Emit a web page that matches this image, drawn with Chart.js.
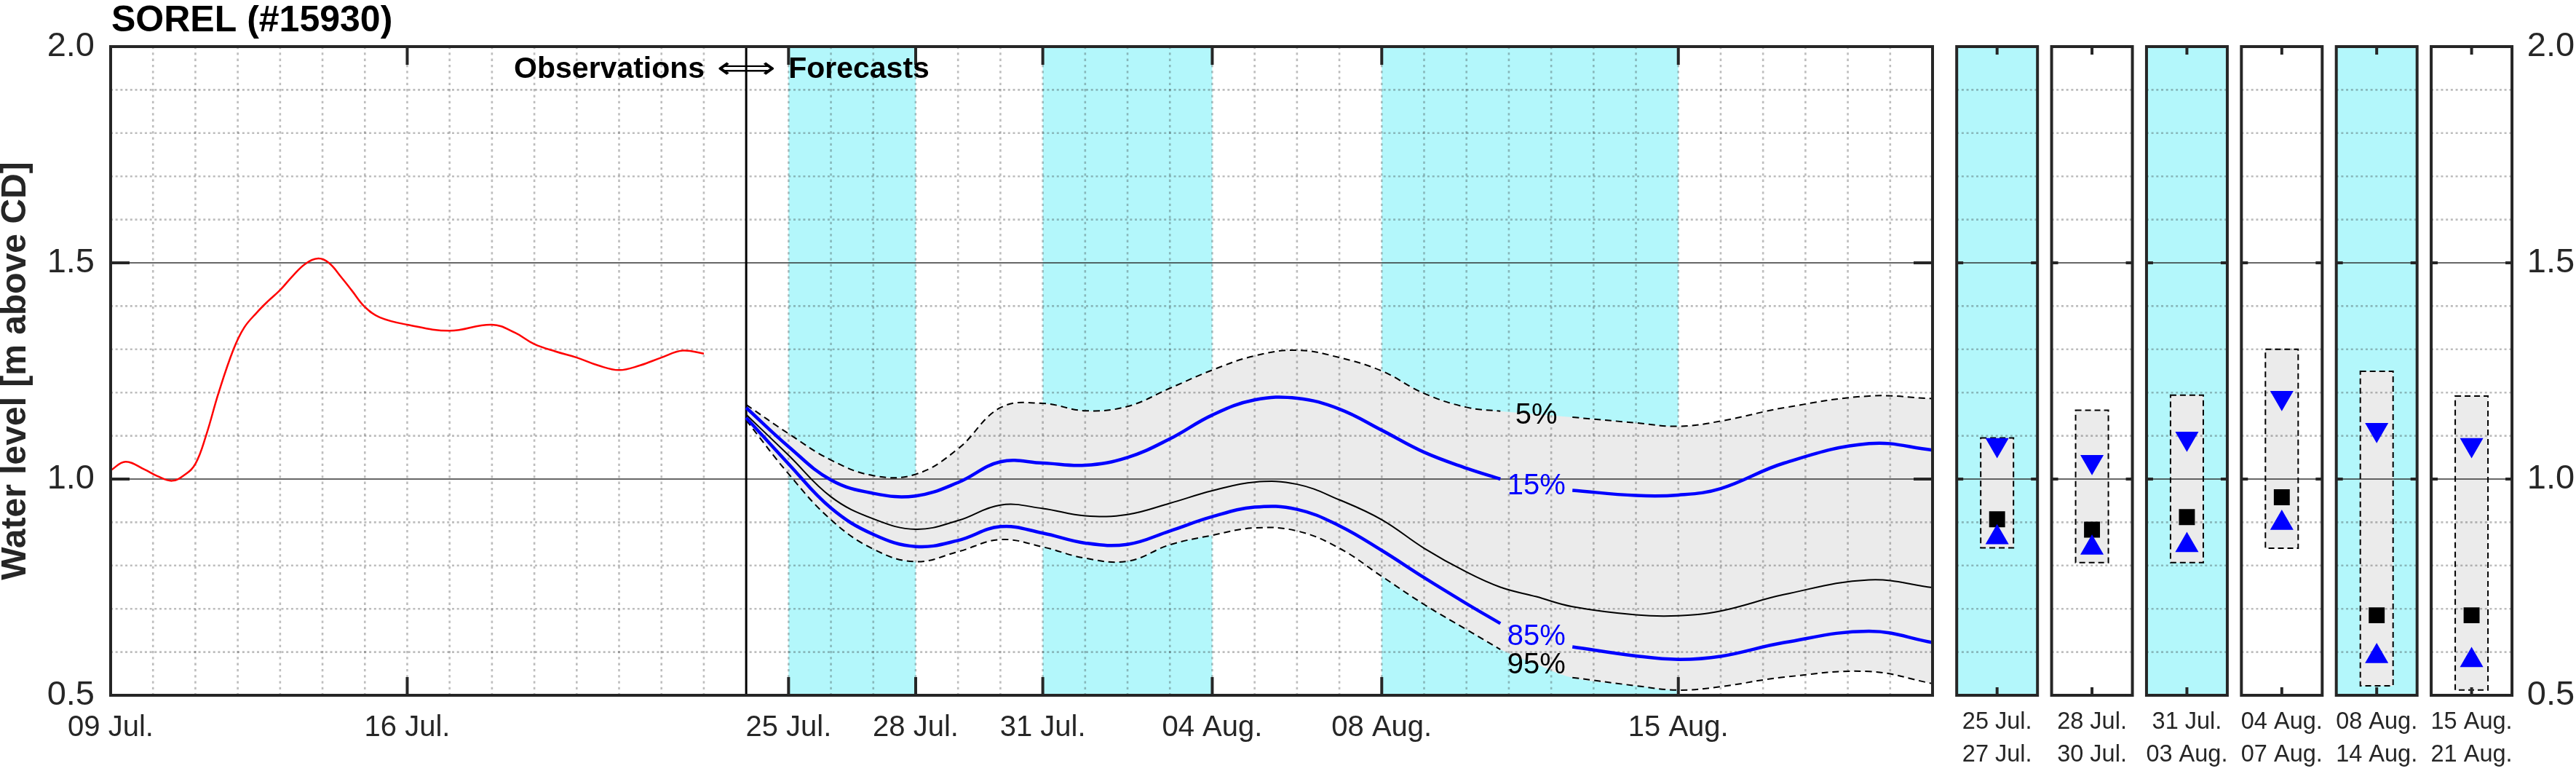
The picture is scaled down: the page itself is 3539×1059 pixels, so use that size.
<!DOCTYPE html>
<html>
<head>
<meta charset="utf-8">
<title>SOREL (#15930)</title>
<script src="https://cdn.jsdelivr.net/npm/chart.js@4.4.1/dist/chart.umd.min.js"></script>
<style>
  html, body { margin: 0; padding: 0; background: #fff; }
  body { width: 3539px; height: 1059px; position: relative; overflow: hidden; }
  canvas { position: absolute; top: 0; }
  #mainChart { left: 0; }
  #periodChart { left: 2660px; }
</style>
</head>
<body>
<canvas id="mainChart" width="2660" height="1059"></canvas>
<canvas id="periodChart" width="879" height="1059"></canvas>
<script>
// all x values are days counted from 09 Jul. 00:00
const obsDays  = [0, 0.35, 0.8, 1.1, 1.45, 1.75, 2.0, 2.25, 2.55, 2.9, 3.15, 3.45, 3.7, 4.0, 4.3, 4.6, 4.9, 5.15, 5.45, 5.7,
                  6.0, 6.35, 7.0, 8.0, 9.0, 9.55, 10.0, 10.5, 11.0, 11.5, 12.0, 12.5, 13.0, 13.5, 14.0];
const obsLevel = [1.020, 1.040, 1.022, 1.007, 0.996, 1.010, 1.035, 1.100, 1.200, 1.300, 1.350, 1.385, 1.410, 1.437, 1.470, 1.498, 1.510, 1.500, 1.466, 1.435,
                  1.398, 1.374, 1.357, 1.343, 1.357, 1.338, 1.312, 1.295, 1.281, 1.263, 1.252, 1.263, 1.281, 1.297, 1.290];

// forecast starts 24 Jul. (day 15); fcDays are days after that
const forecastStart = 15;
const fcDays = [0, 1, 2, 3, 4, 5, 6, 7, 8, 9, 10, 11, 12, 13, 14, 15, 16, 17, 17.8, 18.65, 19.5, 21, 22, 23, 24.5, 26.5, 28];
const q05 = [1.172, 1.105, 1.044, 1.008, 1.011, 1.070, 1.165, 1.175, 1.158, 1.168, 1.210, 1.252, 1.285, 1.298, 1.281, 1.250, 1.198, 1.166, 1.157, 1.150, 1.143, 1.130, 1.122, 1.134, 1.165, 1.192, 1.186];
const q15 = [1.165, 1.075, 0.998, 0.967, 0.961, 0.992, 1.040, 1.037, 1.032, 1.050, 1.093, 1.148, 1.183, 1.187, 1.162, 1.113, 1.062, 1.025, 1.000, 0.986, 0.974, 0.962, 0.963, 0.978, 1.037, 1.082, 1.067];
const q50 = [1.149, 1.055, 0.959, 0.908, 0.884, 0.904, 0.940, 0.932, 0.915, 0.918, 0.944, 0.973, 0.993, 0.988, 0.952, 0.906, 0.840, 0.785, 0.750, 0.728, 0.705, 0.686, 0.684, 0.695, 0.733, 0.767, 0.749];
const q85 = [1.142, 1.035, 0.933, 0.872, 0.844, 0.858, 0.890, 0.875, 0.852, 0.849, 0.880, 0.913, 0.935, 0.930, 0.892, 0.835, 0.772, 0.712, 0.666, 0.638, 0.612, 0.591, 0.583, 0.590, 0.622, 0.648, 0.622];
const q95 = [1.136, 1.012, 0.906, 0.838, 0.809, 0.832, 0.860, 0.843, 0.817, 0.810, 0.848, 0.870, 0.887, 0.880, 0.840, 0.775, 0.710, 0.652, 0.606, 0.572, 0.541, 0.522, 0.512, 0.520, 0.542, 0.555, 0.527];
const labelDay = 18.65; // percentile labels sit here, curves are cut around them

const xTickDays   = [0, 7, 16, 19, 22, 26, 30, 37];
const xTickLabels = ['09 Jul.', '16 Jul.', '25 Jul.', '28 Jul.', '31 Jul.', '04 Aug.', '08 Aug.', '15 Aug.'];
const yTicks = [0.5, 1.0, 1.5, 2.0];
const shadeFrom = [16, 22, 30];
const shadeTo   = [19, 26, 37];

// period summary panels on the right
const periodFrom   = ['25 Jul.', '28 Jul.', '31 Jul.', '04 Aug.', '08 Aug.', '15 Aug.'];
const periodTo     = ['27 Jul.', '30 Jul.', '03 Aug.', '07 Aug.', '14 Aug.', '21 Aug.'];
const periodShaded = [true, false, true, false, true, false];
const boxHigh  = [1.095, 1.159, 1.194, 1.300, 1.249, 1.192];
const boxLow   = [0.841, 0.807, 0.807, 0.840, 0.522, 0.512];
const markHigh = [1.079, 1.040, 1.094, 1.188, 1.114, 1.079];
const markMid  = [0.907, 0.883, 0.912, 0.958, 0.685, 0.685];
const markLow  = [0.865, 0.841, 0.847, 0.898, 0.590, 0.581];

const FONT = "'Liberation Sans', Arial, sans-serif";
const INK = '#262626';
const CYAN = '#b3f7fb';
const BAND = '#ebebeb';
const BLUE = '#0000ff';

function series(days, vals, offset, cut) {
  return days.map((d, i) => ({ x: d + offset, y: (cut && d === labelDay) ? null : vals[i] }));
}

function line(ctx, x0, y0, x1, y1) {
  ctx.beginPath();
  ctx.moveTo(x0, y0);
  ctx.lineTo(x1, y1);
  ctx.stroke();
}

// dotted 0.1 grid plus solid lines at 1.0 / 1.5, between x0 and x1
function yGrid(ctx, y, x0, x1) {
  ctx.lineWidth = 2.6;
  ctx.strokeStyle = 'rgba(38,38,38,0.3)';
  ctx.setLineDash([3, 3.7]);
  for (let k = 6; k < 20; k++) {
    if (k % 5 === 0) continue;
    const py = y.getPixelForValue(k / 10);
    line(ctx, x0, py, x1, py);
  }
  ctx.setLineDash([]);
  ctx.lineWidth = 2;
  ctx.strokeStyle = 'rgba(38,38,38,0.7)';
  [1.0, 1.5].forEach(v => {
    const py = y.getPixelForValue(v);
    line(ctx, x0, py, x1, py);
  });
}

const mainDecor = {
  id: 'mainDecor',
  beforeDraw(chart) {
    const { ctx, chartArea: a, scales: { x } } = chart;
    ctx.save();
    ctx.fillStyle = CYAN;
    shadeFrom.forEach((d, i) => {
      const x0 = x.getPixelForValue(d), x1 = x.getPixelForValue(shadeTo[i]);
      ctx.fillRect(x0, a.top, x1 - x0, a.bottom - a.top);
    });
    ctx.restore();
  },
  beforeDatasetsDraw(chart) {
    // grid goes over the shading and the grey band, under the curves
    const { ctx, chartArea: a, scales: { x, y } } = chart;
    ctx.save();
    ctx.lineWidth = 2.6;
    ctx.strokeStyle = 'rgba(38,38,38,0.3)';
    ctx.setLineDash([3.3, 5]);
    for (let d = 1; d < x.max; d++) {
      if (d === forecastStart) continue;
      const px = x.getPixelForValue(d);
      line(ctx, px, a.top, px, a.bottom);
    }
    yGrid(ctx, y, a.left, a.right);
    // observations / forecasts divider
    ctx.strokeStyle = '#000';
    ctx.lineWidth = 3;
    const dx = x.getPixelForValue(forecastStart);
    line(ctx, dx, a.top, dx, a.bottom);
    ctx.restore();
  },
  afterDatasetsDraw(chart) {
    const { ctx, chartArea: a, scales: { x, y } } = chart;
    ctx.save();

    const li = fcDays.indexOf(labelDay);
    const lx = x.getPixelForValue(forecastStart + labelDay);
    ctx.font = `40px ${FONT}`;
    ctx.textAlign = 'center';
    ctx.textBaseline = 'middle';
    [[q05, '5%', '#000'], [q15, '15%', BLUE], [q85, '85%', BLUE], [q95, '95%', '#000']].forEach(([s, t, c]) => {
      ctx.fillStyle = c;
      ctx.fillText(t, lx, y.getPixelForValue(s[li]) + 2);
    });

    // frame and inward ticks
    ctx.strokeStyle = INK;
    ctx.lineWidth = 4;
    ctx.strokeRect(a.left, a.top, a.right - a.left, a.bottom - a.top);
    xTickDays.forEach(d => {
      const px = x.getPixelForValue(d);
      line(ctx, px, a.top, px, a.top + 25);
      line(ctx, px, a.bottom, px, a.bottom - 25);
    });
    yTicks.forEach(v => {
      const py = y.getPixelForValue(v);
      line(ctx, a.left, py, a.left + 26, py);
      line(ctx, a.right, py, a.right - 26, py);
    });

    // title
    ctx.fillStyle = '#000';
    ctx.textAlign = 'left';
    ctx.textBaseline = 'alphabetic';
    ctx.font = `bold 50px ${FONT}`;
    ctx.fillText('SOREL (#15930)', a.left + 1, a.top - 21);

    // Observations <=> Forecasts
    const dx = x.getPixelForValue(forecastStart);
    ctx.font = `bold 41px ${FONT}`;
    ctx.textAlign = 'right';
    ctx.fillText('Observations', dx - 57, a.top + 43);
    ctx.textAlign = 'left';
    ctx.fillText('Forecasts', dx + 58, a.top + 43);
    ctx.font = "41px 'DejaVu Sans', sans-serif";
    ctx.textAlign = 'center';
    ctx.textBaseline = 'middle';
    const aw = ctx.measureText('\u27FA').width;
    ctx.translate(dx, a.top + 32);
    ctx.scale(81 / aw, 1);
    ctx.fillText('\u27FA', 0, 0);
    ctx.restore();
  }
};

new Chart(document.getElementById('mainChart'), {
  type: 'line',
  data: {
    datasets: [
      { data: series(fcDays, q05, forecastStart, false), borderWidth: 0, backgroundColor: BAND, fill: '+1', order: 10 },
      { data: series(fcDays, q95, forecastStart, false), borderWidth: 0, fill: false, order: 10 },
      { data: series(fcDays, q05, forecastStart, true), borderColor: '#000', borderWidth: 2, borderDash: [9, 6], order: 3 },
      { data: series(fcDays, q95, forecastStart, true), borderColor: '#000', borderWidth: 2, borderDash: [9, 6], order: 3 },
      { data: series(fcDays, q50, forecastStart, false), borderColor: '#000', borderWidth: 2, order: 2 },
      { data: series(fcDays, q15, forecastStart, true), borderColor: BLUE, borderWidth: 4.5, order: 1 },
      { data: series(fcDays, q85, forecastStart, true), borderColor: BLUE, borderWidth: 4.5, order: 1 },
      { data: series(obsDays, obsLevel, 0, false), borderColor: '#ff0000', borderWidth: 2.5, order: 1 }
    ]
  },
  options: {
    responsive: false,
    animation: false,
    devicePixelRatio: 1,
    layout: { padding: { left: 0, top: 64, right: 5, bottom: 0 } },
    elements: { point: { radius: 0, hoverRadius: 0 }, line: { tension: 0.4 } },
    plugins: {
      legend: { display: false },
      tooltip: { enabled: false },
      filler: { drawTime: 'beforeDatasetsDraw' }
    },
    scales: {
      x: {
        type: 'linear', min: 0, max: 43,
        grid: { display: false, drawTicks: false },
        border: { display: false },
        afterBuildTicks: s => { s.ticks = xTickDays.map(v => ({ value: v })); },
        afterFit: s => { s.height = 104; },
        ticks: {
          autoSkip: false, maxRotation: 0, minRotation: 0, padding: 21, color: INK,
          font: { family: FONT, size: 40 },
          callback: v => xTickLabels[xTickDays.indexOf(v)]
        }
      },
      y: {
        min: 0.5, max: 2.0,
        grid: { display: false, drawTicks: false },
        border: { display: false },
        afterBuildTicks: s => { s.ticks = yTicks.map(v => ({ value: v })); },
        afterFit: s => { s.width = 152; },
        ticks: { padding: 22, color: INK, font: { family: FONT, size: 47 }, callback: v => v.toFixed(1) },
        title: {
          display: true, text: 'Water level [m above CD]', color: INK, padding: 0,
          font: { family: FONT, size: 48, weight: 'bold', lineHeight: 0.92 }
        }
      }
    }
  },
  plugins: [mainDecor]
});

const PANEL_HALF = 55.5;

const panelDecor = {
  id: 'panelDecor',
  beforeDraw(chart) {
    const { ctx, chartArea: a, scales: { x } } = chart;
    ctx.save();
    ctx.fillStyle = CYAN;
    periodShaded.forEach((on, i) => {
      if (!on) return;
      const cx = x.getPixelForValue(i);
      ctx.fillRect(cx - PANEL_HALF, a.top, 2 * PANEL_HALF, a.bottom - a.top);
    });
    ctx.restore();
  },
  afterDatasetDraw(chart, args) {
    if (args.index !== 0) return;
    const { ctx, scales: { x, y } } = chart;
    ctx.save();
    periodFrom.forEach((_, i) => {
      const cx = x.getPixelForValue(i);
      yGrid(ctx, y, cx - PANEL_HALF, cx + PANEL_HALF);
    });
    // dashed outline of the range boxes
    ctx.setLineDash([8, 5]);
    ctx.lineWidth = 2;
    ctx.strokeStyle = '#000';
    args.meta.data.forEach(bar => {
      const { x: bx, y: by, base, width } = bar.getProps(['x', 'y', 'base', 'width'], true);
      ctx.strokeRect(bx - width / 2, Math.min(by, base), width, Math.abs(base - by));
    });
    ctx.restore();
  },
  afterDatasetsDraw(chart) {
    const { ctx, chartArea: a, scales: { x, y } } = chart;
    ctx.save();
    ctx.strokeStyle = INK;
    ctx.lineWidth = 4;
    periodFrom.forEach((_, i) => {
      const cx = x.getPixelForValue(i);
      const l = cx - PANEL_HALF, r = cx + PANEL_HALF;
      ctx.strokeRect(l, a.top, r - l, a.bottom - a.top);
      line(ctx, cx, a.top, cx, a.top + 11);
      line(ctx, cx, a.bottom, cx, a.bottom - 11);
      yTicks.forEach(v => {
        const py = y.getPixelForValue(v);
        line(ctx, l, py, l + 9, py);
        line(ctx, r, py, r - 9, py);
      });
    });
    ctx.restore();
  }
};

new Chart(document.getElementById('periodChart'), {
  type: 'bar',
  data: {
    labels: periodFrom.map((s, i) => [s, periodTo[i]]),
    datasets: [
      { data: boxLow.map((lo, i) => [lo, boxHigh[i]]), backgroundColor: BAND, borderWidth: 0, barThickness: 45, order: 5 },
      { type: 'line', data: markHigh, showLine: false, pointStyle: 'triangle', pointRotation: 180, pointRadius: 18.5,
        pointBackgroundColor: BLUE, pointBorderWidth: 0, order: 1 },
      { type: 'line', data: markLow, showLine: false, pointStyle: 'triangle', pointRadius: 18.5,
        pointBackgroundColor: BLUE, pointBorderWidth: 0, order: 1 },
      { type: 'line', data: markMid, showLine: false, pointStyle: 'rect', pointRadius: 15.5,
        pointBackgroundColor: '#000', pointBorderWidth: 0, order: 1 }
    ]
  },
  options: {
    responsive: false,
    animation: false,
    devicePixelRatio: 1,
    layout: { padding: { left: 11.75, top: 64, right: 0, bottom: 0 } },
    plugins: { legend: { display: false }, tooltip: { enabled: false } },
    scales: {
      x: {
        grid: { display: false, drawTicks: false },
        border: { display: false },
        afterFit: s => { s.height = 104; },
        ticks: { autoSkip: false, maxRotation: 0, padding: 14, color: INK, font: { family: FONT, size: 32.5, lineHeight: 1.4 } }
      },
      y: {
        position: 'right', min: 0.5, max: 2.0,
        grid: { display: false, drawTicks: false },
        border: { display: false },
        afterBuildTicks: s => { s.ticks = yTicks.map(v => ({ value: v })); },
        afterFit: s => { s.width = 78.25; },
        ticks: { padding: 11, color: INK, font: { family: FONT, size: 47 }, callback: v => v.toFixed(1) }
      }
    }
  },
  plugins: [panelDecor]
});
</script>
</body>
</html>
